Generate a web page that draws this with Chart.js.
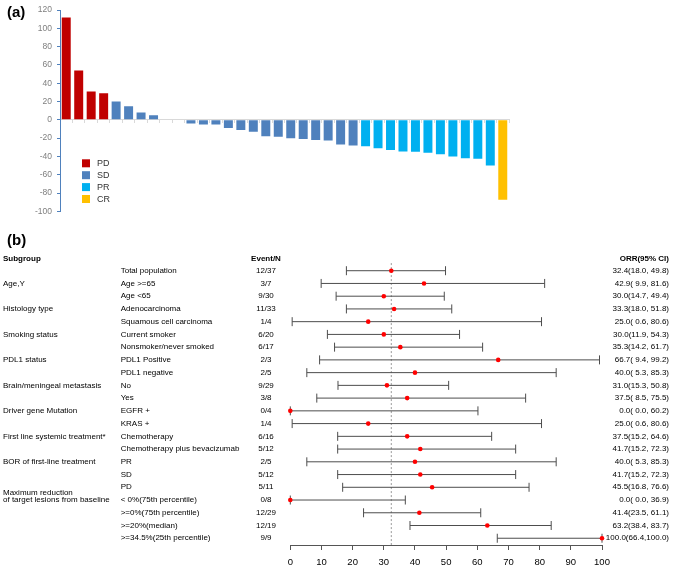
<!DOCTYPE html>
<html><head><meta charset="utf-8">
<script src="https://cdn.jsdelivr.net/npm/chart.js@4.4.1/dist/chart.umd.min.js"></script>
<style>
html,body{margin:0;padding:0;background:#fff;}
#wrap{position:relative;width:676px;height:568px;overflow:hidden;font-family:'Liberation Sans',Arial,sans-serif;}
canvas{position:absolute;left:0;}
#ca{top:0;} #cb{top:228px;}
.panel{position:absolute;left:7px;font-weight:bold;font-size:15px;line-height:15px;color:#000;}
</style></head><body>
<div id="wrap">
<canvas id="ca" width="676" height="228"></canvas>
<canvas id="cb" width="676" height="340"></canvas>
<div class="panel" style="top:4px">(a)</div>
<div class="panel" style="top:232px">(b)</div>
</div>
<script>
// ---------- Panel (a) data: waterfall of best % change ----------
const changePct = [112, 54, 31, 29, 20, 15, 8, 5, 0, 0, -4, -5, -5, -9, -11, -13, -18, -18.5, -20, -21, -22, -22.5, -27, -28,
  -29, -31, -33, -34.5, -35, -36, -37.5, -40, -42, -42.5, -50, -87.5];
const response = ['PD','PD','PD','PD',
  'SD','SD','SD','SD','SD','SD','SD','SD','SD','SD','SD','SD','SD','SD','SD','SD','SD','SD','SD','SD',
  'PR','PR','PR','PR','PR','PR','PR','PR','PR','PR','PR',
  'CR'];
const responseTypes = ['PD', 'SD', 'PR', 'CR'];
const yTicksA = [-100, -80, -60, -40, -20, 0, 20, 40, 60, 80, 100, 120];
const patients = changePct.map((_, i) => 'Patient ' + (i + 1));

// ---------- Panel (b) data: forest plot ----------
const rowLabels = ['Total population', 'Age >=65', 'Age <65', 'Adenocarcinoma', 'Squamous cell carcinoma',
  'Current smoker', 'Nonsmoker/never smoked', 'PDL1 Positive', 'PDL1 negative', 'No', 'Yes', 'EGFR +', 'KRAS +',
  'Chemotherapy', 'Chemotherapy plus bevacizumab', 'PR', 'SD', 'PD', '< 0%(75th percentile)',
  '>=0%(75th percentile)', '>=20%(median)', '>=34.5%(25th percentile)'];
const groupNames = ['Age,Y', 'Histology type', 'Smoking status', 'PDL1 status', 'Brain/meningeal metastasis',
  'Driver gene Mutation', 'First line systemic treatment*', 'BOR of first-line treatment',
  'Maximum reduction\nof target lesions from baseline'];
const groupRows = [1, 3, 5, 7, 9, 11, 13, 15, 18];
const events = ['12/37', '3/7', '9/30', '11/33', '1/4', '6/20', '6/17', '2/3', '2/5', '9/29', '3/8', '0/4', '1/4',
  '6/16', '5/12', '2/5', '5/12', '5/11', '0/8', '12/29', '12/19', '9/9'];
const orr = [32.4, 42.9, 30.0, 33.3, 25.0, 30.0, 35.3, 66.7, 40.0, 31.0, 37.5, 0.0, 25.0, 37.5, 41.7, 40.0, 41.7,
  45.5, 0.0, 41.4, 63.2, 100.0];
const ciLow = [18.0, 9.9, 14.7, 18.0, 0.6, 11.9, 14.2, 9.4, 5.3, 15.3, 8.5, 0.0, 0.6, 15.2, 15.2, 5.3, 15.2, 16.8,
  0.0, 23.5, 38.4, 66.4];
const ciHigh = [49.8, 81.6, 49.4, 51.8, 80.6, 54.3, 61.7, 99.2, 85.3, 50.8, 75.5, 60.2, 80.6, 64.6, 72.3, 85.3, 72.3,
  76.6, 36.9, 61.1, 83.7, 100.0];
const xTicksB = [0, 10, 20, 30, 40, 50, 60, 70, 80, 90, 100];

// ---------- styles ----------
const FONT = "'Liberation Sans', Arial, sans-serif";
Chart.defaults.font.family = FONT;
const respColors = { PD: '#c00000', SD: '#4f81bd', PR: '#00b0f0', CR: '#ffc000' };

const legendA = {
  id: 'legendA',
  afterDraw(chart) {
    const ctx = chart.ctx;
    ctx.save();
    chart.data.datasets.forEach((ds, k) => {
      const cy = 163.3 + k * 11.9;
      ctx.fillStyle = ds.backgroundColor;
      ctx.fillRect(82, cy - 4, 8, 8);
      ctx.fillStyle = '#333';
      ctx.font = '9px ' + FONT;
      ctx.textBaseline = 'middle';
      ctx.textAlign = 'left';
      ctx.fillText(ds.label, 97, cy + 0.5);
    });
    ctx.restore();
  }
};

new Chart(document.getElementById('ca'), {
  type: 'bar',
  data: {
    labels: patients,
    datasets: responseTypes.map(t => ({
      label: t,
      data: changePct.map((v, i) => response[i] === t ? v : null),
      backgroundColor: respColors[t],
      grouped: false,
      categoryPercentage: 1,
      barPercentage: 0.72
    }))
  },
  options: {
    responsive: false, animation: false, events: [],
    layout: { padding: { left: 0, top: 4.5, right: 167, bottom: 16.7 } },
    plugins: { legend: { display: false }, tooltip: { enabled: false } },
    scales: {
      x: {
        type: 'category', position: { y: 0 },
        grid: { offset: true, drawOnChartArea: false, drawTicks: true, tickLength: 3, color: '#d9d9d9' },
        border: { color: '#d9d9d9' },
        ticks: { display: false },
        afterFit(s) { s.height = 0; }
      },
      y: {
        min: -100, max: 120,
        afterBuildTicks(s) { s.ticks = yTicksA.map(v => ({ value: v })); },
        ticks: { color: '#7f7f7f', font: { size: 8.5 }, padding: 5 },
        grid: { drawOnChartArea: false, color: '#4f81bd', tickLength: 3 },
        border: { color: '#4f81bd' },
        afterFit(s) { s.width = 60; }
      }
    }
  },
  plugins: [legendA]
});

// ---------- Panel (b) ----------
function fmt(v, w) { return v.toFixed(1).padStart(w, ' '); }
function orrText(i) { return orr[i].toFixed(1) + '(' + fmt(ciLow[i], 4) + ',' + fmt(ciHigh[i], 5) + ')'; }

const textB = {
  id: 'textB',
  afterDraw(chart) {
    const ctx = chart.ctx, y = chart.scales.y;
    ctx.save();
    ctx.fillStyle = '#000';
    ctx.textBaseline = 'middle';
    const reg = '8px ' + FONT, bold = 'bold 8px ' + FONT;
    const hy = y.getPixelForValue(-0.9);
    ctx.font = bold;
    ctx.textAlign = 'left'; ctx.fillText('Subgroup', 3, hy);
    ctx.textAlign = 'center'; ctx.fillText('Event/N', 266, hy);
    ctx.textAlign = 'right'; ctx.fillText('ORR(95% CI)', 669, hy);
    ctx.font = reg;
    rowLabels.forEach((lab, i) => {
      const py = y.getPixelForValue(i);
      ctx.textAlign = 'left'; ctx.fillText(lab, 120.7, py);
      ctx.textAlign = 'center'; ctx.fillText(events[i], 266, py);
      ctx.textAlign = 'right'; ctx.fillText(orrText(i), 669, py);
    });
    ctx.textAlign = 'left';
    groupNames.forEach((g, k) => {
      const lines = g.split('\n');
      const py = y.getPixelForValue(groupRows[k]);
      lines.forEach((ln, j) => ctx.fillText(ln, 3, py - (lines.length - 1 - j) * 7.3));
    });
    ctx.restore();
  }
};

const whiskers = orr.map((_, i) => ({
  type: 'line',
  data: [{ x: ciLow[i], y: i }, { x: ciHigh[i], y: i }],
  borderColor: '#4d4d4d', borderWidth: 1, pointRadius: 0, clip: false
}));
const caps = {
  type: 'scatter',
  data: orr.flatMap((_, i) => [{ x: ciLow[i], y: i }, { x: ciHigh[i], y: i }]),
  pointStyle: 'line', pointRotation: 90, pointRadius: 4.5,
  pointBorderColor: '#4d4d4d', pointBorderWidth: 1, borderColor: '#4d4d4d', clip: false
};
const points = {
  type: 'scatter',
  data: orr.map((v, i) => ({ x: v, y: i })),
  pointStyle: 'circle', pointRadius: 2.3,
  pointBackgroundColor: '#ff0000', pointBorderColor: '#ff0000', pointBorderWidth: 0,
  backgroundColor: '#ff0000', clip: false
};
const refLine = {
  type: 'line',
  data: [{ x: orr[0], y: -0.6 }, { x: orr[0], y: 21.53 }],
  borderColor: '#9a9a9a', borderWidth: 1, borderDash: [2, 2], pointRadius: 0, clip: false
};

new Chart(document.getElementById('cb'), {
  type: 'scatter',
  data: { datasets: [points, caps, ...whiskers, refLine] },
  options: {
    responsive: false, animation: false, events: [],
    layout: { padding: { left: 290.3, right: 74, top: 23.6, bottom: 0 } },
    plugins: { legend: { display: false }, tooltip: { enabled: false } },
    scales: {
      x: {
        type: 'linear', min: 0, max: 100, position: 'bottom',
        afterBuildTicks(s) { s.ticks = xTicksB.map(v => ({ value: v })); },
        ticks: { color: '#000', font: { size: 9.5 }, padding: 7, maxRotation: 0, autoSkip: false },
        grid: { drawOnChartArea: false, color: '#555', tickLength: 5 },
        border: { color: '#555' },
        afterFit(s) { s.height = 23; }
      },
      y: { type: 'linear', reverse: true, min: -1.5, max: 21.53, display: false }
    }
  },
  plugins: [textB]
});
</script>
</body></html>
